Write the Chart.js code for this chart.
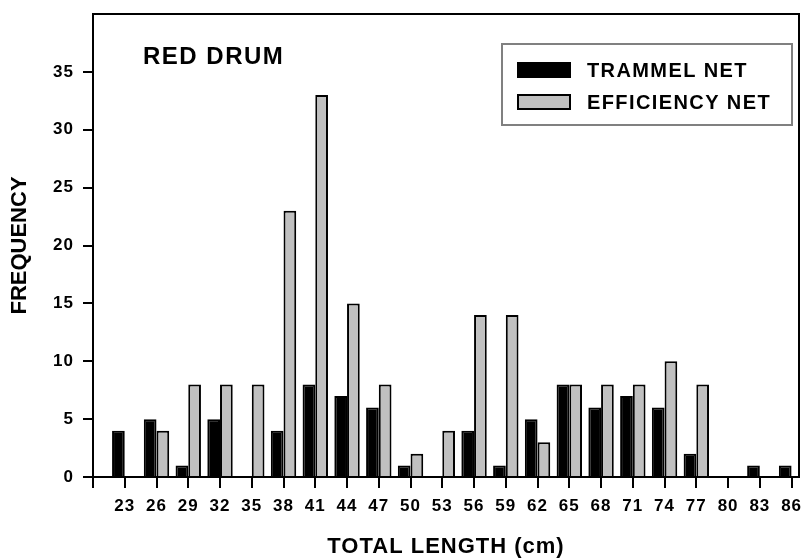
<!DOCTYPE html>
<html>
<head>
<meta charset="utf-8">
<script src="https://cdn.jsdelivr.net/npm/chart.js@4/dist/chart.umd.min.js"></script>
<style>
  html, body { margin: 0; padding: 0; background: #fff; }
  #wrap { width: 801px; height: 559px; }
</style>
</head>
<body>
<div id="wrap"><canvas id="c" width="801" height="559"></canvas></div>
<script>
// Length classes (cm) and catch frequencies per gear
const lengths = [23, 26, 29, 32, 35, 38, 41, 44, 47, 50, 53, 56, 59, 62, 65, 68, 71, 74, 77, 80, 83, 86];
const trammel = [4, 5, 1, 5, 0, 4, 8, 7, 6, 1, 0, 4, 1, 5, 8, 6, 7, 6, 2, 0, 1, 1];
const efficiency = [0, 4, 8, 8, 8, 23, 33, 15, 8, 2, 4, 14, 14, 3, 8, 8, 8, 10, 8, 0, 0, 0];
const yTicks = [0, 5, 10, 15, 20, 25, 30, 35];
const seriesNames = ['TRAMMEL NET', 'EFFICIENCY NET'];
const speciesName = 'RED DRUM';

const FONT = "'Liberation Sans', Arial, Helvetica, sans-serif";
const step = lengths[1] - lengths[0];
const xMin = lengths[0] - step;
const xMax = 86.7;
const TRACKING = '1px';

// Wider letter tracking for all chart text except the vertical axis title
const tracking = {
  id: 'tracking',
  beforeDraw(chart) {
    chart.ctx.letterSpacing = TRACKING;
    const y = chart.scales.y;
    if (y && !y._plainTitle) {
      const orig = y.drawTitle;
      y.drawTitle = function () {
        const ctx = this.ctx;
        ctx.letterSpacing = '0px';
        orig.apply(this, arguments);
        ctx.letterSpacing = TRACKING;
      };
      y._plainTitle = true;
    }
  },
  afterDraw(chart) {
    chart.ctx.letterSpacing = '0px';
  }
};

// Frame around the plotting area, species caption and boxed legend
const decorations = {
  id: 'decorations',
  afterDatasetsDraw(chart) {
    const { ctx, chartArea: a } = chart;
    ctx.save();
    ctx.strokeStyle = '#000';
    ctx.lineWidth = 2;
    ctx.strokeRect(a.left, a.top, a.right - a.left, a.bottom - a.top);

    ctx.fillStyle = '#000';
    ctx.font = `bold 24px ${FONT}`;
    ctx.letterSpacing = '1.5px';
    ctx.textBaseline = 'alphabetic';
    ctx.textAlign = 'left';
    ctx.fillText(speciesName, 143, 64);

    // legend box
    ctx.strokeStyle = '#808080';
    ctx.lineWidth = 2;
    ctx.strokeRect(502, 44, 290, 81);
    const rows = [70, 102];
    ctx.letterSpacing = '1.4px';
    chart.data.datasets.forEach((ds, i) => {
      const cy = rows[i];
      ctx.fillStyle = ds.backgroundColor;
      ctx.fillRect(518, cy - 7, 52, 14);
      ctx.strokeStyle = '#000';
      ctx.lineWidth = 2;
      ctx.strokeRect(518, cy - 7, 52, 14);
      ctx.fillStyle = '#000';
      ctx.font = `bold 20px ${FONT}`;
      ctx.fillText(ds.label, 587, cy + 7);
    });
    ctx.restore();
  }
};

new Chart(document.getElementById('c'), {
  type: 'bar',
  data: {
    datasets: [
      {
        label: seriesNames[0],
        data: lengths.map((x, i) => ({ x, y: trammel[i] })),
        backgroundColor: '#000000',
        borderColor: '#000000',
        borderWidth: 2
      },
      {
        label: seriesNames[1],
        data: lengths.map((x, i) => ({ x, y: efficiency[i] })),
        backgroundColor: '#c0c0c0',
        borderColor: '#000000',
        borderWidth: 2
      }
    ]
  },
  options: {
    responsive: false,
    animation: false,
    devicePixelRatio: 1,
    categoryPercentage: 0.8,
    barPercentage: 1.0,
    layout: { padding: { top: 14, right: 2, left: 0, bottom: 0 } },
    plugins: {
      legend: { display: false },
      tooltip: { enabled: false }
    },
    scales: {
      x: {
        type: 'linear',
        min: xMin,
        max: xMax,
        offset: false,
        afterBuildTicks(scale) {
          scale.ticks = [xMin, ...lengths].map(v => ({ value: v }));
        },
        afterFit(scale) {
          scale.height = 82;
          scale.paddingLeft = 0;
          scale.paddingRight = 0;
        },
        grid: {
          offset: false,
          drawOnChartArea: false,
          drawTicks: true,
          tickLength: 11,
          color: '#000',
          lineWidth: 2
        },
        border: { display: true, color: '#000', width: 2 },
        ticks: {
          autoSkip: false,
          maxRotation: 0,
          padding: 8,
          color: '#000',
          font: { family: FONT, size: 17, weight: 'bold' },
          callback: v => (lengths.includes(v) ? String(v) : '')
        },
        title: {
          display: true,
          text: 'TOTAL LENGTH (cm)',
          color: '#000',
          font: { family: FONT, size: 22, weight: 'bold', lineHeight: 1 },
          padding: { top: 0, bottom: 1 }
        }
      },
      y: {
        min: 0,
        max: 40,
        afterBuildTicks(scale) {
          scale.ticks = yTicks.map(v => ({ value: v }));
        },
        afterFit(scale) {
          scale.width = 93;
          scale.paddingTop = 0;
          scale.paddingBottom = 0;
        },
        grid: {
          drawOnChartArea: false,
          drawTicks: true,
          tickLength: 10,
          color: '#000',
          lineWidth: 2
        },
        border: { display: true, color: '#000', width: 2 },
        ticks: {
          padding: 9,
          color: '#000',
          font: { family: FONT, size: 17, weight: 'bold' }
        },
        title: {
          display: true,
          text: 'FREQUENCY',
          color: '#000',
          font: { family: FONT, size: 22, weight: 'bold', lineHeight: 1 },
          padding: { top: 9, bottom: 0 }
        }
      }
    }
  },
  plugins: [tracking, decorations]
});
</script>
</body>
</html>
